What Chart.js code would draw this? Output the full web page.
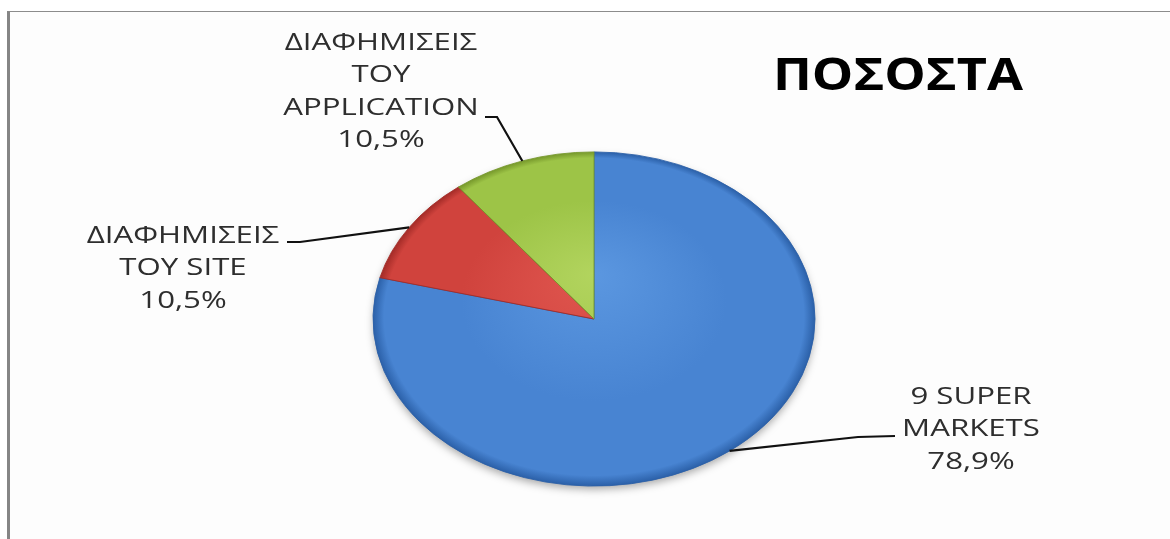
<!DOCTYPE html>
<html>
<head>
<meta charset="utf-8">
<script src="https://cdn.jsdelivr.net/npm/chart.js@4"></script>
<style>
  html, body { margin: 0; padding: 0; background: #fff; }
  #wrap { position: relative; width: 1170px; height: 539px; overflow: hidden; }
  #frame { position: absolute; left: 7px; top: 11px; right: -4px; bottom: -4px;
           border-left: 3px solid #858585; border-top: 1px solid #8c8c8c; background: #fdfdfd; }
  canvas { position: absolute; left: 0; top: 0; }
</style>
</head>
<body>
<div id="wrap">
  <div id="frame"></div>
  <canvas id="pie" width="1170" height="539"></canvas>
</div>
<script>
const chartTitle  = 'ΠΟΣΟΣΤΑ';
const categories  = [['9 SUPER', 'MARKETS'], ['ΔΙΑΦΗΜΙΣΕΙΣ', 'ΤΟΥ SITE'], ['ΔΙΑΦΗΜΙΣΕΙΣ', 'ΤΟΥ', 'APPLICATION']];
const shares      = [78.9, 10.5, 10.5];
const shareLabels = ['78,9%', '10,5%', '10,5%'];

// slice colours: [light, mid, dark]
const palette = [
  ['#5b97e0', '#4884d2', '#2b60a8'],
  ['#e0564f', '#d0433d', '#a32b27'],
  ['#b2d45e', '#9dc447', '#76982b'],
];

const SQUASH = 0.756;   // vertical flattening of the pie
const RADIUS = 221;

// where each label block sits and how its leader line bends
const labelLayout = [
  { x: 971, y: 397, elbow: [858, 437], end: [895, 436] },
  { x: 183, y: 236, elbow: [300, 242], end: [287, 242] },
  { x: 381, y: 43,  elbow: [497, 117], end: [485, 117] },
];

function centerOf(chart) {
  const a = chart.chartArea;
  return { cx: (a.left + a.right) / 2, cy: (a.top + a.bottom) / 2 };
}

function sliceFill(ctx) {
  const chart = ctx.chart;
  const c = palette[ctx.dataIndex];
  if (!chart.chartArea) return c[1];
  const { cx, cy } = centerOf(chart);
  const g = chart.ctx.createRadialGradient(cx, cy - 60, 0, cx, cy, RADIUS);
  g.addColorStop(0, c[0]);
  g.addColorStop(0.6, c[1]);
  g.addColorStop(0.95, c[1]);
  g.addColorStop(1, c[2]);
  return g;
}

const squashPlugin = {
  id: 'squash',
  beforeDatasetsDraw(chart) {
    const ctx = chart.ctx;
    const { cx, cy } = centerOf(chart);
    ctx.save();
    ctx.translate(cx, cy);
    ctx.scale(1, SQUASH);
    ctx.translate(-cx, -cy);
    // soft drop shadow under the disc
    ctx.save();
    ctx.shadowColor = 'rgba(0,0,0,0.35)';
    ctx.shadowBlur = 9;
    ctx.shadowOffsetY = 4;
    ctx.beginPath();
    ctx.arc(cx, cy, RADIUS - 1, 0, Math.PI * 2);
    ctx.fillStyle = '#555';
    ctx.fill();
    ctx.restore();
  },
  afterDatasetsDraw(chart) {
    chart.ctx.restore();
  }
};

function stretchText(ctx, txt, x, y, sx) {
  ctx.save();
  ctx.translate(x, y);
  ctx.scale(sx, 1);
  ctx.fillText(txt, 0, 0);
  ctx.restore();
}

const labelPlugin = {
  id: 'labels',
  afterDraw(chart) {
    const ctx = chart.ctx;
    const { cx, cy } = centerOf(chart);
    const meta = chart.getDatasetMeta(0);

    ctx.save();
    meta.data.forEach((arc, i) => {
      const { startAngle, endAngle, outerRadius } = arc.getProps(['startAngle', 'endAngle', 'outerRadius'], true);
      const mid = (startAngle + endAngle) / 2;
      const px = cx + Math.cos(mid) * outerRadius;
      const py = cy + Math.sin(mid) * outerRadius * SQUASH;
      const L = labelLayout[i];

      // leader line
      ctx.beginPath();
      ctx.moveTo(px, py);
      ctx.lineTo(L.elbow[0], L.elbow[1]);
      ctx.lineTo(L.end[0], L.end[1]);
      ctx.strokeStyle = '#111';
      ctx.lineWidth = 2.2;
      ctx.stroke();

      // label text
      ctx.fillStyle = '#2e2e2e';
      ctx.font = '24px "Open Sans"';
      ctx.textAlign = 'center';
      ctx.textBaseline = 'middle';
      const lines = categories[i].concat([shareLabels[i]]);
      lines.forEach((t, k) => stretchText(ctx, t, L.x, L.y + k * 32.5, 1.3));
    });

    // title
    ctx.fillStyle = '#000';
    ctx.font = 'bold 45px "Open Sans"';
    ctx.textAlign = 'center';
    ctx.textBaseline = 'middle';
    stretchText(ctx, chartTitle, 898, 77, 1.16);
    ctx.restore();
  }
};

new Chart(document.getElementById('pie').getContext('2d'), {
  type: 'pie',
  data: {
    labels: categories.map(c => c.join(' ')),
    datasets: [{
      data: shares,
      backgroundColor: sliceFill,
      borderColor: palette.map(c => c[2]),
      borderWidth: 1,
      radius: RADIUS,
      clip: false,
    }]
  },
  options: {
    responsive: false,
    animation: false,
    events: [],
    layout: { padding: { left: 373, right: 355, top: 119, bottom: 20 } },
    plugins: {
      legend: { display: false },
      title: { display: false },
      tooltip: { enabled: false },
    }
  },
  plugins: [squashPlugin, labelPlugin]
});
</script>
</body>
</html>
